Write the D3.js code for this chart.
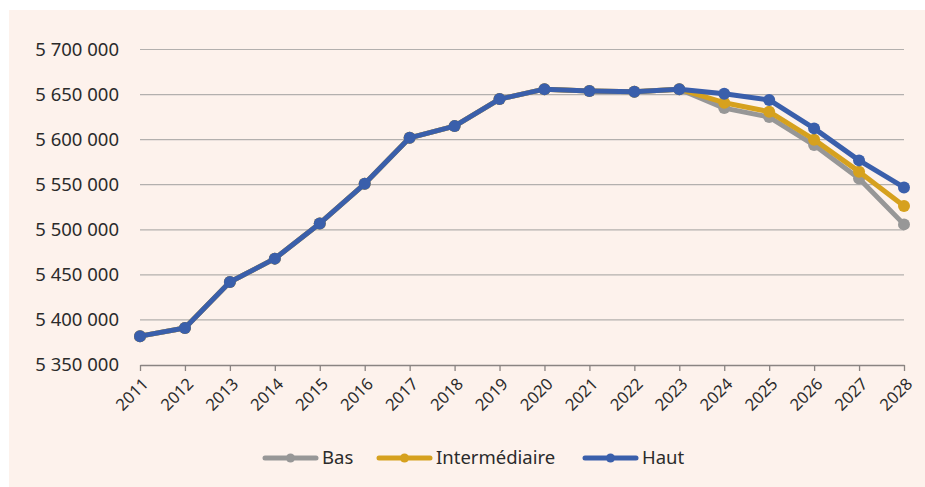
<!DOCTYPE html>
<html>
<head>
<meta charset="utf-8">
<script src="https://cdn.jsdelivr.net/npm/d3@7"></script>
<style>
  body { margin: 0; background: #ffffff; }
  text { font-family: "Noto Sans", sans-serif; fill: #2b2b2b; }
</style>
</head>
<body>
<div id="chart"></div>
<script>
// data
var years = ["2011","2012","2013","2014","2015","2016","2017","2018","2019","2020","2021","2022","2023","2024","2025","2026","2027","2028"];
var bas = [5382000,5391000,5442000,5468000,5507000,5551000,5602000,5615000,5645000,5656000,5654000,5653000,5656000,5635000,5625000,5594000,5557000,5506000];
var intermediaire = [5382000,5391000,5442000,5468000,5507000,5551000,5602000,5615000,5645000,5656000,5654000,5653000,5656000,5641000,5631000,5600000,5564500,5526500];
var haut = [5382000,5391000,5442000,5468000,5507000,5551000,5602000,5615000,5645000,5656000,5654000,5653000,5656000,5651000,5644000,5612500,5577000,5547000];
var yTicks = [5350000,5400000,5450000,5500000,5550000,5600000,5650000,5700000];
var seriesNames = ["Bas","Intermédiaire","Haut"];
var seriesColors = ["#979797","#d6a11e","#3a5fab"];

var svgWidth = 925, svgHeight = 487;
var margin = {top: 49.5, right: 21, bottom: 122, left: 140};
var chartWidth = svgWidth - margin.left - margin.right;
var chartHeight = svgHeight - margin.top - margin.bottom;

var svg = d3.select("#chart").append("svg")
    .attr("width", svgWidth)
    .attr("height", svgHeight);

// panel background
svg.append("rect")
    .attr("x", 9).attr("y", 10)
    .attr("width", svgWidth - 9).attr("height", svgHeight - 10)
    .attr("fill", "#fdf2ec");

var g = svg.append("g").attr("transform", `translate(${margin.left}, ${margin.top})`);

var xScale = d3.scalePoint().domain(years).range([0, chartWidth]);
var yScale = d3.scaleLinear().domain([5350000, 5700000]).range([chartHeight, 0]);

var fmt = function(v) { return d3.format(",")(v).replace(/,/g, " "); };

// gridlines
g.selectAll(".grid").data(yTicks.slice(1)).enter().append("line")
    .attr("x1", 0).attr("x2", chartWidth)
    .attr("y1", d => yScale(d)).attr("y2", d => yScale(d))
    .attr("stroke", "#b3b0ae").attr("stroke-width", 1.2);

// y axis labels
var yAxis = g.append("g").call(d3.axisLeft(yScale).tickValues(yTicks).tickFormat(fmt).tickSize(0).tickPadding(21));
yAxis.select(".domain").remove();
yAxis.selectAll("text").style("font-size", "18.5px").attr("fill", "#2b2b2b").attr("font-family", "Noto Sans");

// x axis
var xAxis = g.append("g").attr("transform", `translate(0, ${chartHeight})`)
    .call(d3.axisBottom(xScale).tickSize(6).tickSizeOuter(0));
xAxis.select(".domain").attr("stroke", "#8a8482").attr("stroke-width", 1.3);
xAxis.selectAll(".tick line").attr("stroke", "#8a8482").attr("stroke-width", 1.3);
xAxis.selectAll("text")
    .style("font-size", "16.5px").attr("fill", "#2b2b2b").attr("font-family", "Noto Sans")
    .attr("text-anchor", "end")
    .attr("y", 0).attr("dy", 0)
    .attr("transform", "translate(9, 20) rotate(-45)");

// lines
var line = d3.line().x((d, i) => xScale(years[i])).y(d => yScale(d));
var allSeries = [bas, intermediaire, haut];

allSeries.forEach(function(s, k) {
    g.append("path").datum(s)
        .attr("d", line)
        .attr("fill", "none")
        .attr("stroke", seriesColors[k])
        .attr("stroke-width", 5)
        .attr("stroke-linejoin", "round");
    g.selectAll(".pt" + k).data(s).enter().append("circle")
        .attr("cx", (d, i) => xScale(years[i]))
        .attr("cy", d => yScale(d))
        .attr("r", 6)
        .attr("fill", seriesColors[k]);
});

// legend
var legendX = [263, 377, 583];
var legend = svg.append("g");
seriesNames.forEach(function(name, k) {
    var lg = legend.append("g").attr("transform", `translate(${legendX[k]}, 458)`);
    lg.append("line").attr("x1", 2).attr("x2", 53).attr("y1", 0).attr("y2", 0)
        .attr("stroke", seriesColors[k]).attr("stroke-width", 5).attr("stroke-linecap", "round");
    lg.append("circle").attr("cx", 27.5).attr("cy", 0).attr("r", 4.5).attr("fill", seriesColors[k]);
    lg.append("text").attr("x", 59).attr("y", 0).attr("dy", "0.35em")
        .style("font-size", "18.5px").text(name);
});
</script>
</body>
</html>
